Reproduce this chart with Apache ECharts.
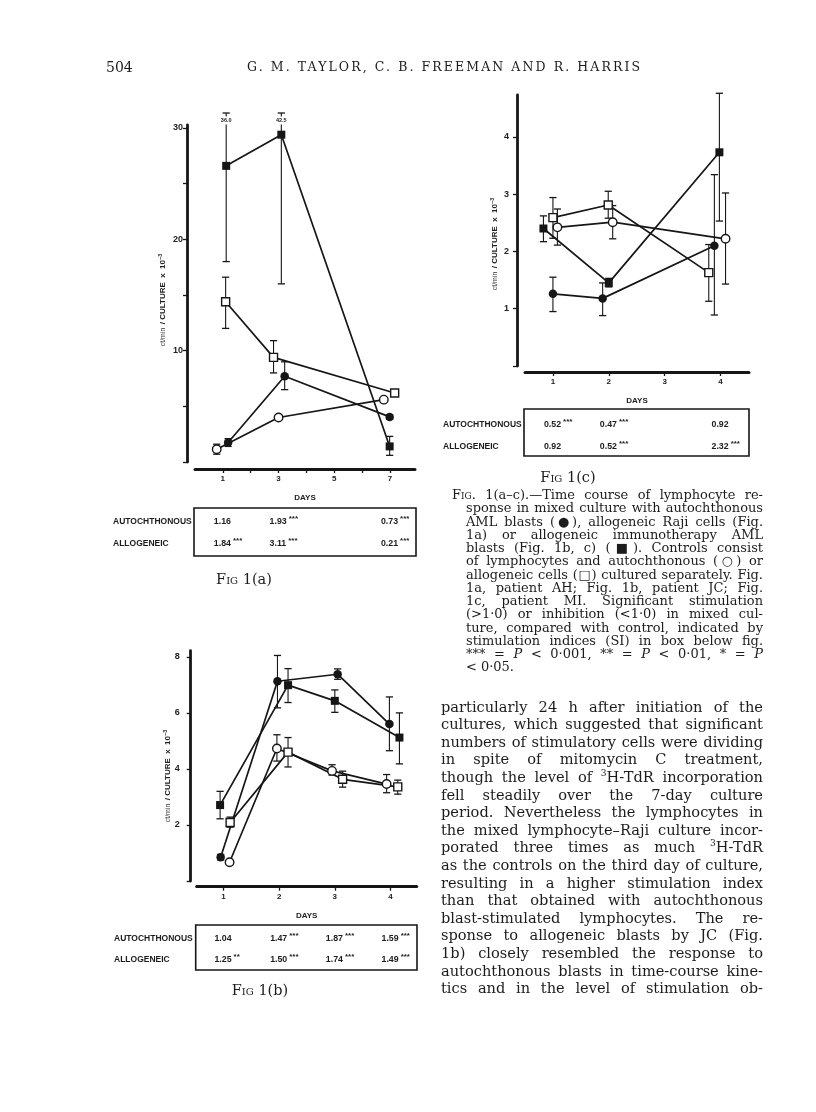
<!DOCTYPE html>
<html><head><meta charset="utf-8">
<script src="https://cdn.jsdelivr.net/npm/echarts@6/dist/echarts.min.js"></script>
<style>
html,body{margin:0;padding:0;background:#fff;}
#page{position:relative;width:816px;height:1112px;overflow:hidden;background:#fff;}
#chart{position:absolute;left:0;top:0;width:816px;height:1112px;}
.t{position:absolute;font-family:'DejaVu Serif',serif;color:#1c1c1c;white-space:nowrap;}
.j{text-align:justify;text-align-last:justify;white-space:normal;}
.sc{font-variant:small-caps;}
sup{font-size:0.62em;line-height:0;}
</style></head><body>
<div id="page"><div id="chart"></div><div id="text"></div></div>
<script>
// ---------- DATA ----------
// Fig 1(a): patient AH, days 1,3,7  [day, value]
const a_xTicks = [1,2,3,4,5,6,7];
const a_xLabels = [1,3,5,7];
const a_yTicks = [0,5,10,15,20,25,30];
const a_yLabels = [10,20,30];
const a_allo     = [[1.12,26.6],[3.10,29.4],[6.99,1.4]];          // filled square
const a_alloErr  = [[1.12,18.0,36.0],[3.10,16.0,42.5],[6.99,0.6,2.3]];
const a_alloCtl  = [[1.10,14.4],[2.82,9.4],[7.17,6.2]];           // open square
const a_alloCtlErr = [[1.10,12.0,16.6],[2.82,8.0,10.9],[7.17,5.9,6.5]];
const a_auto     = [[1.19,1.75],[3.22,7.7],[6.99,4.05]];          // filled circle
const a_autoErr  = [[1.19,1.4,2.1],[3.22,6.5,9.0],[6.99,3.85,4.25]];
const a_autoCtl  = [[0.78,1.15],[3.0,4.0],[6.78,5.6]];            // open circle
const a_autoCtlErr = [[0.78,0.7,1.6]];

// Fig 1(b): patient JC, days 1-4
const b_xTicks = [1,2,3,4];
const b_xLabels = [1,2,3,4];
const b_yTicks = [0,2,4,6,8];
const b_yLabels = [2,4,6,8];
const b_auto     = [[0.95,0.85],[1.97,7.13],[3.05,7.38],[3.98,5.6]];
const b_autoErr  = [[0.95,0.75,0.95],[1.97,6.18,8.05],[3.05,7.2,7.57],[3.98,4.65,6.57]];
const b_allo     = [[0.94,2.71],[2.16,6.99],[3.0,6.43],[4.16,5.12]];
const b_alloErr  = [[0.94,2.22,3.2],[2.16,6.37,7.58],[3.0,6.02,6.82],[4.16,4.18,6.0]];
const b_autoCtl  = [[1.11,0.67],[1.96,4.73],[2.95,3.93],[3.93,3.46]];
const b_autoCtlErr = [[1.11,0.6,0.75],[1.96,4.28,5.22],[2.95,3.78,4.15],[3.93,3.15,3.8]];
const b_alloCtl  = [[1.12,2.09],[2.16,4.6],[3.14,3.63],[4.13,3.36]];
const b_alloCtlErr = [[1.12,1.92,2.28],[2.16,4.07,5.12],[3.14,3.35,3.92],[4.13,3.1,3.6]];

// Fig 1(c): patient MI, days 1,2,4
const c_xTicks = [1,2,3,4];
const c_xLabels = [1,2,3,4];
const c_yTicks = [0,1,2,3,4];
const c_yLabels = [1,2,3,4];
const c_allo     = [[0.83,2.40],[2.0,1.45],[3.98,3.73]];
const c_alloErr  = [[0.83,2.17,2.62],[2.0,1.38,1.53],[3.98,2.53,4.76]];
const c_alloCtl  = [[1.0,2.59],[1.99,2.81],[3.79,1.63]];
const c_alloCtlErr = [[1.0,2.23,2.94],[1.99,2.58,3.05],[3.79,1.13,2.12]];
const c_autoCtl  = [[1.08,2.42],[2.07,2.51],[4.09,2.22]];
const c_autoCtlErr = [[1.08,2.11,2.74],[2.07,2.22,2.8],[4.09,1.43,3.02]];
const c_auto     = [[1.0,1.26],[1.89,1.18],[3.89,2.10]];
const c_autoErr  = [[1.0,0.95,1.55],[1.89,0.88,1.45],[3.89,0.89,3.34]];

// Stimulation index tables
const rowNames = ['AUTOCHTHONOUS','ALLOGENEIC'];
const a_siDays = [1,3,7];
const a_siAuto = ['1.16','1.93','0.73'];  const a_sigAuto = ['','***','***'];
const a_siAllo = ['1.84','3.11','0.21'];  const a_sigAllo = ['***','***','***'];
const b_siDays = [1,2,3,4];
const b_siAuto = ['1.04','1.47','1.87','1.59'];  const b_sigAuto = ['','***','***','***'];
const b_siAllo = ['1.25','1.50','1.74','1.49'];  const b_sigAllo = ['**','***','***','***'];
const c_siDays = [1,2,4];
const c_siAuto = ['0.52','0.47','0.92'];  const c_sigAuto = ['***','***',''];
const c_siAllo = ['0.92','0.52','2.32'];  const c_sigAllo = ['','***','***'];

const yTitle = '{a|ct/min} {b|/ CULTURE  x  10}{c|−3}';
const xTitle = 'DAYS';
const figLabels = ['1(a)','1(b)','1(c)'];

// ---------- CHART ----------
const chart = echarts.init(document.getElementById('chart'), null, {renderer:'canvas'});
const INK = '#161616';
const SANS = 'Liberation Sans';

const grids = [
  {left:195, top:125, width:220, height:337},      // a
  {left:196.7, top:650.7, width:220, height:230.3}, // b
  {left:525, top:95, width:224, height:271}         // c
];
const xr = [[0,7.9],[0.52,4.47],[0.5,4.51]];
const yr = [[0,30.27],[0,8.22],[0,4.73]];
const xT = [a_xTicks,b_xTicks,c_xTicks], xL=[a_xLabels,b_xLabels,c_xLabels];
const yT = [a_yTicks,b_yTicks,c_yTicks], yL=[a_yLabels,b_yLabels,c_yLabels];
const xOff = [7,5.7,6], yOff=[8,6,8], yLabMargin=[4,11,8];

const xAxes = grids.map((g,i)=>({
  type:'value', gridIndex:i, min:xr[i][0], max:xr[i][1], offset:xOff[i],
  axisLine:{show:true,onZero:false,lineStyle:{color:INK,width:3}},
  axisTick:{show:true,inside:false,length:4,customValues:xT[i],lineStyle:{color:INK,width:1.3}},
  axisLabel:{show:true,customValues:xL[i],margin:6,color:'#222',fontFamily:SANS,fontWeight:'bold',fontSize:8},
  splitLine:{show:false},
  name:xTitle, nameLocation:'middle', nameGap:25,
  nameTextStyle:{color:'#222',fontFamily:SANS,fontWeight:'bold',fontSize:8}
}));
const yAxes = grids.map((g,i)=>({
  type:'value', gridIndex:i, min:yr[i][0], max:yr[i][1], offset:yOff[i],
  axisLine:{show:true,onZero:false,lineStyle:{color:INK,width:2.8}},
  axisTick:{show:true,inside:false,length:4,customValues:yT[i],lineStyle:{color:INK,width:1.3}},
  axisLabel:{show:true,customValues:yL[i],margin:yLabMargin[i],color:'#222',fontFamily:SANS,fontWeight:'bold',fontSize:9},
  splitLine:{show:false}
}));

function lineS(gi, data, symbol, filled){
  return {type:'line', xAxisIndex:gi, yAxisIndex:gi, data, symbol,
    symbolSize: symbol==='rect'?8:8.5, showAllSymbol:true, clip:false, animation:false,
    lineStyle:{color:INK,width:1.7}, itemStyle:{color:filled?INK:'#fff',borderColor:INK,borderWidth:filled?0:1.4},
    emphasis:{disabled:true}, z:5};
}
function errS(gi, data, yTop){
  return {type:'custom', xAxisIndex:gi, yAxisIndex:gi, data, clip:false, animation:false, z:3,
    renderItem:(params, api)=>{
      const x=api.value(0), lo=api.value(1), hi=api.value(2);
      const pL=api.coord([x,lo]);
      let pH, label=null;
      if(hi>yTop){ const t=api.coord([x,yTop]); pH=[t[0],t[1]-12]; label=hi.toFixed(1); }
      else pH=api.coord([x,hi]);
      const w=3.6;
      const ch=[
        {type:'line',shape:{x1:pL[0],y1:pL[1],x2:pH[0],y2:pH[1]},style:{stroke:INK,lineWidth:1.1}},
        {type:'line',shape:{x1:pL[0]-w,y1:pL[1],x2:pL[0]+w,y2:pL[1]},style:{stroke:INK,lineWidth:1.3}},
        {type:'line',shape:{x1:pH[0]-w,y1:pH[1],x2:pH[0]+w,y2:pH[1]},style:{stroke:INK,lineWidth:1.3}}
      ];
      if(label) ch.push({type:'text',x:pH[0],y:pH[1]+7.5,z2:20,style:{text:label,fill:'#222',
        font:'bold 5.5px "Liberation Sans"',align:'center',verticalAlign:'middle',backgroundColor:'#fff',padding:[1,0]}});
      return {type:'group',children:ch};
    }};
}

const series = [
  errS(0,a_alloErr,yr[0][1]), errS(0,a_alloCtlErr,yr[0][1]), errS(0,a_autoErr,yr[0][1]), errS(0,a_autoCtlErr,yr[0][1]),
  lineS(0,a_allo,'rect',true), lineS(0,a_alloCtl,'rect',false), lineS(0,a_auto,'circle',true), lineS(0,a_autoCtl,'circle',false),
  errS(1,b_autoErr,99), errS(1,b_alloErr,99), errS(1,b_autoCtlErr,99), errS(1,b_alloCtlErr,99),
  lineS(1,b_auto,'circle',true), lineS(1,b_allo,'rect',true), lineS(1,b_autoCtl,'circle',false), lineS(1,b_alloCtl,'rect',false),
  errS(2,c_alloErr,99), errS(2,c_alloCtlErr,99), errS(2,c_autoCtlErr,99), errS(2,c_autoErr,99),
  lineS(2,c_allo,'rect',true), lineS(2,c_alloCtl,'rect',false), lineS(2,c_autoCtl,'circle',false), lineS(2,c_auto,'circle',true)
];

chart.setOption({animation:false, backgroundColor:'transparent', grid:grids, xAxis:xAxes, yAxis:yAxes, series});

// ---------- graphic: axis titles, tables ----------
const mctx = document.createElement('canvas').getContext('2d');
function tw(txt,font){ mctx.font=font; return mctx.measureText(txt).width; }
const cellFont = 'bold 8.8px "Liberation Sans"';
const g = [];
const titlePos = [[163,300],[168,776],[495,244]];
titlePos.forEach(p=>g.push({type:'text',x:p[0],y:p[1],rotation:Math.PI/2,style:{text:yTitle,align:'center',verticalAlign:'middle',
  rich:{a:{fontFamily:SANS,fontSize:7,fill:'#333'},b:{fontFamily:SANS,fontWeight:'bold',fontSize:8,fill:'#222'},c:{fontFamily:SANS,fontWeight:'bold',fontSize:5.5,fill:'#222',verticalAlign:'top'}}}}));

const tables = [
  {gi:0, days:a_siDays, v:[a_siAuto,a_siAllo], s:[a_sigAuto,a_sigAllo], box:[194,508,416,556], rows:[522,544], lx:113},
  {gi:1, days:b_siDays, v:[b_siAuto,b_siAllo], s:[b_sigAuto,b_sigAllo], box:[195.7,925,417,970], rows:[939,960], lx:114},
  {gi:2, days:c_siDays, v:[c_siAuto,c_siAllo], s:[c_sigAuto,c_sigAllo], box:[524,409,749,456], rows:[425,447], lx:443}
];
tables.forEach(t=>{
  g.push({type:'rect',shape:{x:t.box[0],y:t.box[1],width:t.box[2]-t.box[0],height:t.box[3]-t.box[1]},
    style:{fill:'none',stroke:INK,lineWidth:1.6}});
  rowNames.forEach((rn,r)=>{
    g.push({type:'text',x:t.lx,y:t.rows[r],style:{text:rn,font:'bold 8.5px "Liberation Sans"',fill:'#1c1c1c',verticalAlign:'middle'}});
    t.days.forEach((d,k)=>{
      const px = chart.convertToPixel({xAxisIndex:t.gi}, d) - 9;
      const val = t.v[r][k], sig = t.s[r][k];
      g.push({type:'text',x:px,y:t.rows[r],style:{text:val,font:cellFont,fill:'#1c1c1c',verticalAlign:'middle'}});
      if(sig) g.push({type:'text',x:px+tw(val,cellFont)+2,y:t.rows[r]-3,style:{text:sig,font:'bold 8px "Liberation Sans"',fill:'#1c1c1c',verticalAlign:'middle'}});
    });
  });
});
chart.setOption({graphic:{elements:g}});

// ---------- page text ----------
const header = {num:'504', title:'G. M. TAYLOR, C. B. FREEMAN AND R. HARRIS'};
const caption = [
  '<span class="sc">Fig</span>. 1(a–c).—Time course of lymphocyte re-',
  'sponse in mixed culture with autochthonous',
  'AML blasts (●), allogeneic Raji cells (Fig.',
  '1a) or allogeneic immunotherapy AML',
  'blasts (Fig. 1b, c) (■). Controls consist',
  'of lymphocytes and autochthonous (○) or',
  'allogeneic cells (□) cultured separately. Fig.',
  '1a, patient AH; Fig. 1b, patient JC; Fig.',
  '1c, patient MI. Significant stimulation',
  '(&gt;1·0) or inhibition (&lt;1·0) in mixed cul-',
  'ture, compared with control, indicated by',
  'stimulation indices (SI) in box below fig.',
  '*** = <i>P</i> &lt; 0·001, ** = <i>P</i> &lt; 0·01, * = <i>P</i>',
  '&lt; 0·05.'
];
const body = [
  'particularly 24 h after initiation of the',
  'cultures, which suggested that significant',
  'numbers of stimulatory cells were dividing',
  'in spite of mitomycin C treatment,',
  'though the level of <sup>3</sup>H-TdR incorporation',
  'fell steadily over the 7-day culture',
  'period. Nevertheless the lymphocytes in',
  'the mixed lymphocyte–Raji culture incor-',
  'porated three times as much <sup>3</sup>H-TdR',
  'as the controls on the third day of culture,',
  'resulting in a higher stimulation index',
  'than that obtained with autochthonous',
  'blast-stimulated lymphocytes. The re-',
  'sponse to allogeneic blasts by JC (Fig.',
  '1b) closely resembled the response to',
  'autochthonous blasts in time-course kine-',
  'tics and in the level of stimulation ob-'
];
const T = document.getElementById('text');
function add(html, css, cls){ const d=document.createElement('div'); d.className='t '+(cls||''); d.innerHTML=html; Object.assign(d.style,css); T.appendChild(d); return d; }
function plain(h){ const d=document.createElement('div'); d.innerHTML=h; return d.textContent; }
function fitSize(lines, widths){ // font size at which the widest line fills its width
  let r=0; lines.forEach((l,i)=>{ if(widths[i]) r=Math.max(r, tw(plain(l),'10px "DejaVu Serif"')/widths[i]); });
  return 10/r*0.985;
}
// header with letter spacing to fill its width
const hFont=12.5;
const hNat = tw(header.title, hFont+'px "DejaVu Serif"');
const hLS = (393-hNat)/(header.title.length-1);
add(header.num,{left:'106px',top:'59px',fontSize:'14px',lineHeight:'16px'});
add(header.title,{left:'247px',top:'59px',fontSize:hFont+'px',lineHeight:'16px',letterSpacing:hLS+'px'});
const figPos=[[244,579],[260,990],[568,477]];
figLabels.forEach((f,i)=>add('<span class="sc">Fig</span> '+f,{left:(figPos[i][0]-50)+'px',top:(figPos[i][1]-9)+'px',width:'100px',textAlign:'center',fontSize:'14.5px',lineHeight:'18px'}));
const capW = caption.map((l,i)=> i===caption.length-1?0:(i===0?763-452:763-466));
const capFs = fitSize(caption, capW);
caption.forEach((l,i)=>{
  const left = i===0?452:466, last = i===caption.length-1;
  add(l,{left:left+'px',top:(495+13.25*i-7)+'px',width:last?'auto':(763-left)+'px',fontSize:capFs+'px',lineHeight:'14px'}, last?'':'j');
});
const bodyFs = fitSize(body, body.map(()=>322));
body.forEach((l,i)=>add(l,{left:'441px',top:(706+17.6*i-9.5)+'px',width:'322px',fontSize:bodyFs+'px',lineHeight:'19px'},'j'));
</script>
</body></html>
